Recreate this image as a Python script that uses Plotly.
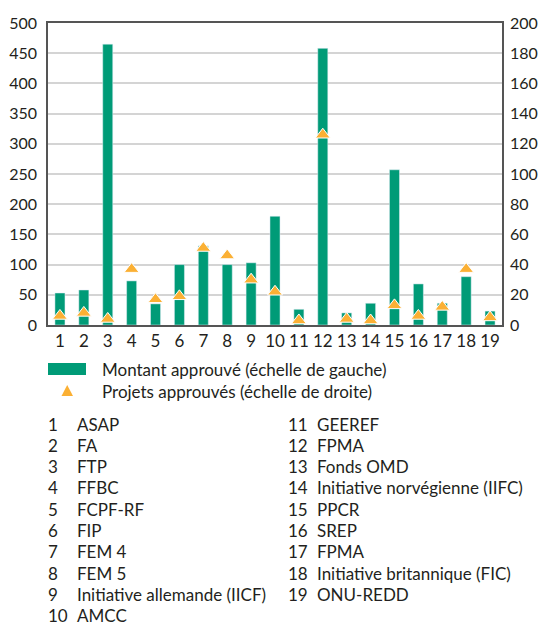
import plotly.graph_objects as go

ids = list(range(1, 20))
tick_labels = [str(i) for i in ids]
montant = [53, 58, 465, 73, 35, 100, 131, 100, 103, 180, 26, 458, 20, 36, 257, 68, 36, 80, 23]
projets = [6, 8, 4, 37, 17, 19, 51, 46, 30, 22, 3, 126, 4, 3, 13, 6, 12, 37, 5]
noms = ["ASAP", "FA", "FTP", "FFBC", "FCPF-RF", "FIP", "FEM 4", "FEM 5",
        "Initiative allemande (IICF)", "AMCC", "GEEREF", "FPMA", "Fonds OMD",
        "Initiative norvégienne (IIFC)", "PPCR", "SREP", "FPMA",
        "Initiative britannique (FIC)", "ONU-REDD"]
legend_labels = ["Montant approuvé (échelle de gauche)", "Projets approuvés (échelle de droite)"]

GREEN = "#009b77"
ORANGE = "#fbb034"
TXT = "#231f20"
FONT = "Lato"

W, H = 538, 627
L, R, T, B = 48, 36, 23, 302
PW, PH = W - L - R, H - T - B

fig = go.Figure()
fig.add_trace(go.Bar(x=ids, y=montant, marker_color=GREEN, name=legend_labels[0],
                     showlegend=False))
fig.add_trace(go.Scatter(x=ids, y=projets, yaxis="y2", mode="markers", name=legend_labels[1],
                         marker=dict(symbol="triangle-up", size=13, color=ORANGE,
                                     line=dict(color="white", width=1)),
                         showlegend=False))

fig.update_layout(
    width=W, height=H,
    margin=dict(l=L, r=R, t=T, b=B, autoexpand=False),
    paper_bgcolor="white", plot_bgcolor="white",
    font=dict(family=FONT, size=16, color=TXT),
    bargap=0.58,
    showlegend=False,
    xaxis=dict(range=[0.5, 19.5], tickvals=ids, ticktext=tick_labels, automargin=False,
               showline=True, linecolor="#555555", linewidth=1.5, mirror=True,
               showgrid=False, ticks="", tickfont=dict(size=17)),
    yaxis=dict(range=[0, 500], dtick=50, showgrid=True, gridcolor="#d4d4d4", gridwidth=1.5,
               showline=True, linecolor="#555555", linewidth=1.5, ticks="", automargin=False,
               zeroline=False, tickfont=dict(size=16), ticklabelstandoff=6),
    yaxis2=dict(range=[0, 200], dtick=20, overlaying="y", side="right", showgrid=False,
                showline=True, linecolor="#555555", linewidth=1.5, ticks="", automargin=False,
                zeroline=False, tickfont=dict(size=16), ticklabelstandoff=3),
)

# helpers: convert window pixel positions to paper coordinates
def py(ypix):
    return (H - B - ypix) / PH

def px(xpix):
    return (xpix - L) / PW

shapes = []
annotations = []
# legend
shapes.append(dict(type="rect", xref="paper", yref="paper",
                   x0=px(48), x1=px(86), y0=py(375), y1=py(363),
                   fillcolor=GREEN, line=dict(width=0)))
annotations.append(dict(xref="paper", yref="paper", x=px(100), y=py(369), xanchor="left",
                        yanchor="middle", text=legend_labels[0], showarrow=False,
                        font=dict(size=17)))
annotations.append(dict(xref="paper", yref="paper", x=px(100), y=py(391.5), xanchor="left",
                        yanchor="middle", text=legend_labels[1], showarrow=False,
                        font=dict(size=17)))
shapes.append(dict(type="path", xref="paper", yref="paper",
                   path=f"M {px(61.5)} {py(396)} L {px(73)} {py(396)} L {px(67.2)} {py(385)} Z",
                   fillcolor=ORANGE, line=dict(width=0)))

# names list
row0 = 424
dy = 21.3
for i, (n, name) in enumerate(zip(ids, noms)):
    if i < 10:
        xn, xt, r = 46, 75, i
    else:
        xn, xt, r = 286, 315, i - 10
    y = py(row0 + r * dy)
    annotations.append(dict(xref="paper", yref="paper", x=px(xn), y=y, xanchor="left",
                            yanchor="middle", text=str(n), showarrow=False, font=dict(size=17)))
    annotations.append(dict(xref="paper", yref="paper", x=px(xt), y=y, xanchor="left",
                            yanchor="middle", text=name, showarrow=False, font=dict(size=17)))

fig.update_layout(shapes=shapes, annotations=annotations)
fig.write_html("out.html", config={"displayModeBar": False},
               post_script="document.body.style.margin='0';document.body.style.overflow='hidden';")
